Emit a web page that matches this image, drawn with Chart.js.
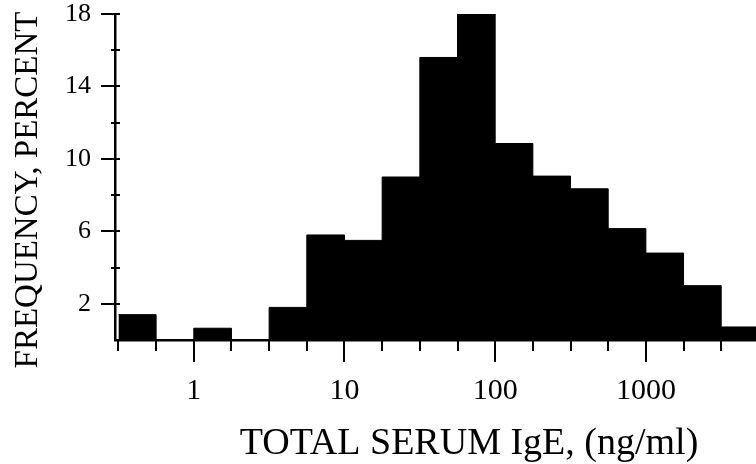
<!DOCTYPE html>
<html>
<head>
<meta charset="utf-8">
<script src="https://cdn.jsdelivr.net/npm/chart.js@4/dist/chart.umd.min.js"></script>
<style>
  html, body { margin: 0; padding: 0; background: #fff; }
  #wrap { width: 756px; height: 464px; }
</style>
</head>
<body>
<div id="wrap"><canvas id="myChart" width="756" height="464"></canvas></div>
<script>
// histogram bins: lower edge of each bin (quarter decades), and the % in it
const binEdges = [0.3162, 0.5623, 1, 1.778, 3.162, 5.623, 10, 17.78, 31.62, 56.23, 100, 177.8, 316.2, 562.3, 1000, 1778, 3162];
const frequencies = [1.4, 0, 0.65, 0, 1.8, 5.8, 5.5, 9.0, 15.6, 18.0, 10.85, 9.05, 8.35, 6.15, 4.8, 3.0, 0.72];
const xMax = 5380; // axis runs off the right edge

const xLabelValues = [1, 10, 100, 1000];
const xLabels = ['1', '10', '100', '1000'];
const yTickValues = [2, 4, 6, 8, 10, 12, 14, 16, 18];
const yLabelValues = [2, 6, 10, 14, 18];

const xTitle = 'TOTAL SERUM IgE, (ng/ml)';
const yTitle = 'FREQUENCY, PERCENT';

const serif = '"Liberation Serif", "Times New Roman", Times, serif';

// step points: each edge carries its bin value, last point closes the final bin
const points = binEdges.map((e, i) => ({ x: e, y: frequencies[i] }));
points.push({ x: xMax, y: frequencies[frequencies.length - 1] });

// tick marks and axis titles drawn by hand (Chart.js has one tick length per axis)
const axisDecor = {
  id: 'axisDecor',
  afterDraw(chart) {
    const { ctx, chartArea } = chart;
    const x = chart.scales.x;
    const y = chart.scales.y;
    ctx.save();
    ctx.strokeStyle = '#000';
    ctx.lineWidth = 2;
    ctx.beginPath();
    binEdges.forEach(v => {
      const px = Math.round(x.getPixelForValue(v));
      const len = xLabelValues.includes(v) ? 22 : 11;
      ctx.moveTo(px, chartArea.bottom);
      ctx.lineTo(px, chartArea.bottom + len);
    });
    yTickValues.forEach(v => {
      const py = Math.round(y.getPixelForValue(v));
      const len = yLabelValues.includes(v) ? 14 : 4;
      ctx.moveTo(chartArea.left - len, py);
      ctx.lineTo(chartArea.left + 5, py);
    });
    ctx.stroke();

    ctx.fillStyle = '#000';
    ctx.font = '38px ' + serif;
    ctx.textAlign = 'center';
    ctx.textBaseline = 'alphabetic';
    ctx.fillText(xTitle, 469, 454);

    ctx.translate(37, 190);
    ctx.rotate(-Math.PI / 2);
    ctx.font = '33px ' + serif;
    ctx.fillText(yTitle, 0, 0);
    ctx.restore();
  }
};

const ctx = document.getElementById('myChart').getContext('2d');
new Chart(ctx, {
  type: 'line',
  data: {
    datasets: [{
      data: points,
      stepped: 'before',
      fill: 'origin',
      backgroundColor: '#000',
      borderColor: '#000',
      borderWidth: 1,
      pointRadius: 0
    }]
  },
  options: {
    responsive: false,
    animation: false,
    layout: { padding: { top: 14, right: 0, left: 0, bottom: 0 } },
    plugins: { legend: { display: false }, tooltip: { enabled: false } },
    scales: {
      x: {
        type: 'logarithmic',
        min: binEdges[0],
        max: xMax,
        afterBuildTicks: s => { s.ticks = xLabelValues.map(v => ({ value: v })); },
        afterFit: s => { s.height = 124; s.paddingLeft = 0; s.paddingRight = 0; },
        ticks: {
          callback: (v, i) => xLabels[i],
          font: { family: serif, size: 30 },
          color: '#000',
          padding: 33,
          autoSkip: false,
          maxRotation: 0
        },
        grid: { display: false, drawTicks: false },
        border: { display: true, color: '#000', width: 2.5 }
      },
      y: {
        type: 'linear',
        min: 0,
        max: 18,
        afterBuildTicks: s => { s.ticks = yLabelValues.map(v => ({ value: v })); },
        afterFit: s => { s.width = 115; s.paddingTop = 0; s.paddingBottom = 0; },
        ticks: {
          font: { family: serif, size: 26 },
          color: '#000',
          padding: 24
        },
        grid: { display: false, drawTicks: false },
        border: { display: true, color: '#000', width: 2.5 }
      }
    }
  },
  plugins: [axisDecor]
});
</script>
</body>
</html>
